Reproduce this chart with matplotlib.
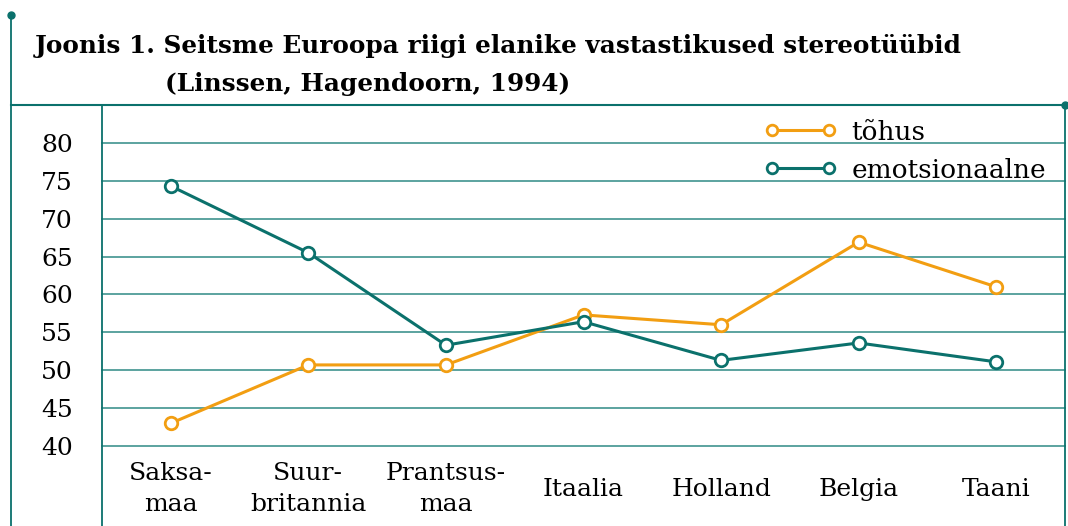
import matplotlib
matplotlib.use("Agg")
import matplotlib.pyplot as plt
from matplotlib.lines import Line2D

categories = ["Saksa-\nmaa", "Suur-\nbritannia", "Prantsus-\nmaa", "Itaalia", "Holland", "Belgia", "Taani"]
tohus = [43.0, 50.7, 50.7, 57.3, 56.0, 66.9, 61.0]
emots = [74.3, 65.5, 53.3, 56.4, 51.3, 53.6, 51.1]
yticks = [40, 45, 50, 55, 60, 65, 70, 75, 80]
series_names = ["tõhus", "emotsionaalne"]
title_line1 = "Joonis 1. Seitsme Euroopa riigi elanike vastastikused stereotüübid"
title_line2 = "(Linssen, Hagendoorn, 1994)"

ORANGE = "#F29E12"
TEAL = "#0B716C"
GRID = "#4E9C97"
FONT = "DejaVu Serif"

W, H = 1068, 526
fig = plt.figure(figsize=(W / 100, H / 100), dpi=100)

def fx(px):
    return px / W

def fy(py):
    return 1 - py / H

ax_l, ax_r, ax_t, ax_b = 102, 1065, 105, 446
ax = fig.add_axes([fx(ax_l), fy(ax_b), fx(ax_r - ax_l), (ax_b - ax_t) / H])
ax.set_xlim(-0.5, 6.5)
ax.set_ylim(40, 85)
for s in ax.spines.values():
    s.set_visible(False)
for v in yticks + [85]:
    ax.axhline(v, color=GRID, lw=1.3, zorder=1, clip_on=False)

x = list(range(len(categories)))
mk = dict(marker="o", markersize=9, markerfacecolor="white", markeredgewidth=2)
ax.plot(x, tohus, color=ORANGE, lw=2.2, label=series_names[0], zorder=3, **mk)
ax.plot(x, emots, color=TEAL, lw=2.2, label=series_names[1], zorder=3, **mk)

ax.set_yticks(yticks)
ax.set_yticklabels([str(v) for v in yticks], fontfamily=FONT, fontsize=18)
ax.tick_params(axis="y", length=0, pad=21)
ax.set_xticks(x)
ax.set_xticklabels(categories, fontfamily=FONT, fontsize=18, linespacing=1.42, va="center")
ax.tick_params(axis="x", length=0, pad=31)

leg = ax.legend(loc="upper left", bbox_to_anchor=((750 - ax_l) / (ax_r - ax_l), 1.0),
                frameon=False, prop={"family": FONT, "size": 19}, handlelength=2.75, numpoints=2,
                handletextpad=0.55, labelspacing=0.5, borderaxespad=0.0, borderpad=0.55,
                markerscale=0.85)

# frame lines
def fline(xs, ys, **kw):
    fig.add_artist(Line2D([fx(v) for v in xs], [fy(v) for v in ys], transform=fig.transFigure, **kw))

fline([11, 11], [15, H], color=TEAL, lw=1.3)
fline([11, 1065], [105, 105], color=TEAL, lw=1.5)
fline([102, 102], [105, H], color=TEAL, lw=1.3)
fline([1065, 1065], [105, H], color=TEAL, lw=1.3)
fline([11], [15], marker="o", markersize=5, color=TEAL, lw=0)
fline([1065], [105], marker="o", markersize=5, color=TEAL, lw=0)

fig.text(fx(35), fy(46), title_line1, fontfamily=FONT, fontweight="bold", fontsize=17.8, va="center", ha="left")
fig.text(fx(165), fy(84), title_line2, fontfamily=FONT, fontweight="bold", fontsize=17.8, va="center", ha="left")

fig.savefig("out.png", dpi=100)
